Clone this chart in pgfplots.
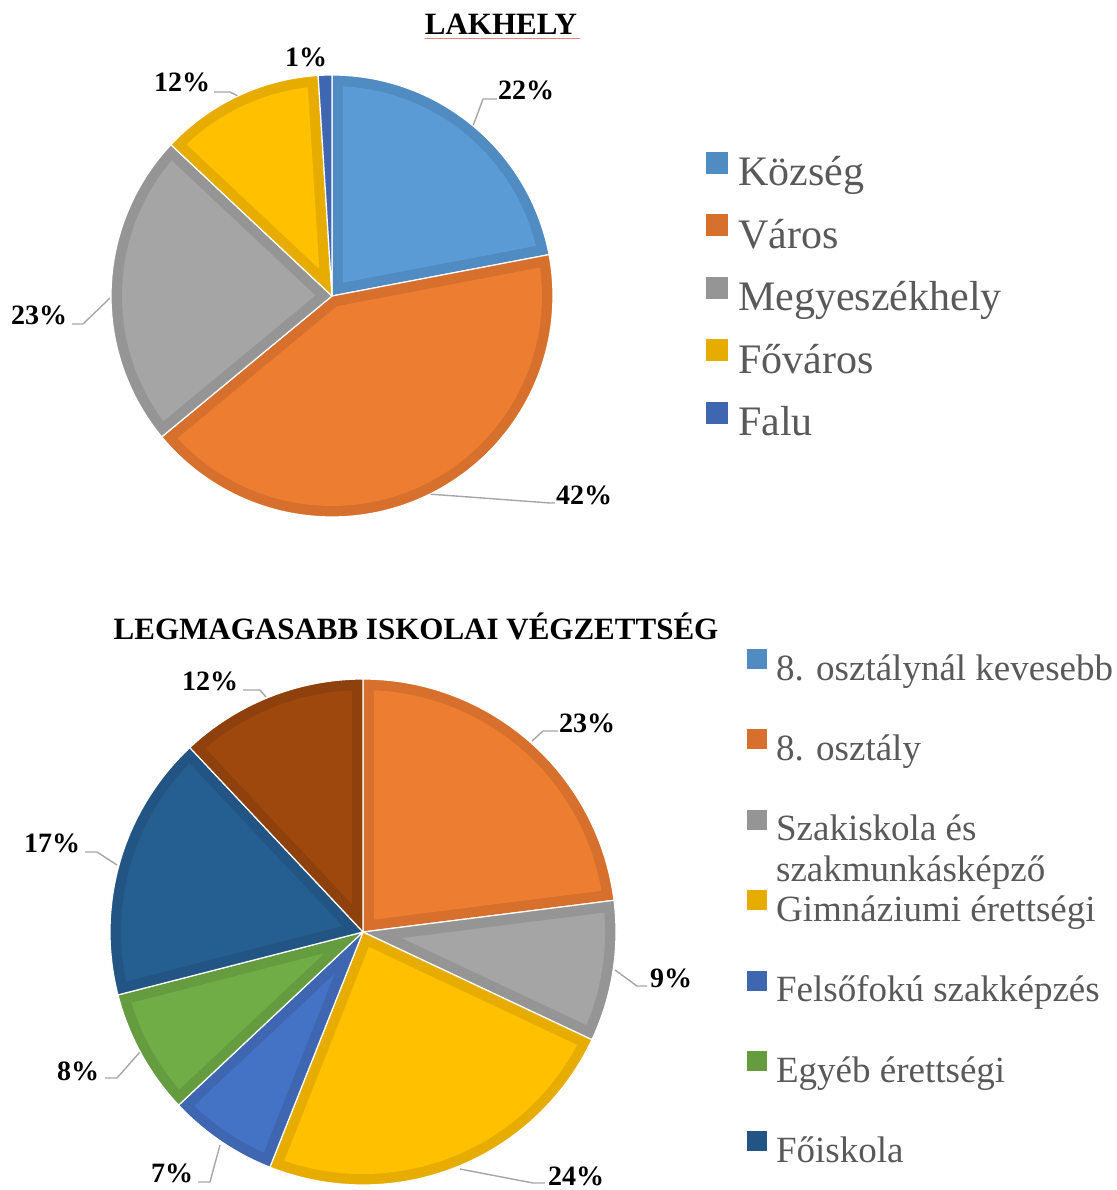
\documentclass[border=0pt]{standalone}
\usepackage{pgfplots}
\pgfplotsset{compat=1.18}
\usepackage{fontspec}
\setmainfont{Liberation Serif}

\definecolor{cBlue}{HTML}{5B9BD5}\definecolor{cBlueD}{HTML}{508BC2}
\definecolor{cOrange}{HTML}{ED7D31}\definecolor{cOrangeD}{HTML}{D6702C}
\definecolor{cGray}{HTML}{A5A5A5}\definecolor{cGrayD}{HTML}{959595}
\definecolor{cGold}{HTML}{FFC000}\definecolor{cGoldD}{HTML}{E6AD00}
\definecolor{cBlueII}{HTML}{4472C4}\definecolor{cBlueIID}{HTML}{3E66B1}
\definecolor{cGreen}{HTML}{70AD47}\definecolor{cGreenD}{HTML}{659C40}
\definecolor{cNavy}{HTML}{255E91}\definecolor{cNavyD}{HTML}{225583}
\definecolor{cBrown}{HTML}{9E480E}\definecolor{cBrownD}{HTML}{8E410D}
\definecolor{legtext}{HTML}{595959}
\definecolor{leader}{HTML}{A6A6A6}
\definecolor{squig}{HTML}{F08080}

\def\inset{11}
% #1 cx, #2 cy, #3 R, #4 start %, #5 end %, #6 fill, #7 border colour, #8 extra options
\newcommand{\pieslice}[8]{%
  \pgfmathsetmacro\sa{3.6*#4}%
  \pgfmathsetmacro\sb{3.6*#5}%
  \pgfmathsetmacro\sm{(\sa+\sb)/2}%
  \pgfmathsetmacro\sh{(\sb-\sa)/2}%
  \pgfmathsetmacro\sr{#3-\inset}%
  \pgfmathsetmacro\sd{asin(\inset/\sr)}%
  \pgfmathsetmacro\sq{\inset/sin(\sh)}%
  \pgfmathsetmacro\ax{#1+\sq*sin(\sm)}%
  \pgfmathsetmacro\ay{#2-\sq*cos(\sm)}%
  \pgfmathsetmacro\ia{\sa+\sd}%
  \pgfmathsetmacro\ib{\sb-\sd}%
  \pgfmathtruncatemacro\hasinner{\sq<0.8*\sr ? 1 : 0}%
  \edef\doslice{%
    \noexpand\addplot[#8, fill=#7, draw=white, line width=1.2pt, line join=round,
      domain=\sa:\sb, samples=90, variable=\noexpand\t]
      ({#1+#3*sin(\noexpand\t)}, {#2-#3*cos(\noexpand\t)}) -- (axis cs:#1,#2) -- cycle;
  }\doslice
  \ifnum\hasinner=1
  \edef\doslice{%
    \noexpand\addplot[forget plot, fill=#6, draw=none,
      domain=\ia:\ib, samples=90, variable=\noexpand\t]
      ({#1+\sr*sin(\noexpand\t)}, {#2-\sr*cos(\noexpand\t)}) -- (axis cs:\ax,\ay) -- cycle;
  }\doslice
  \fi
}

\pgfplotsset{
  pieaxis/.style={
    at={(0,0)}, anchor=south west,
    scale only axis, width=1116pt, height=1190pt,
    xmin=0, xmax=1116, ymin=0, ymax=1190, y dir=reverse,
    hide axis, clip=false, legend cell align=left,
  },
  lead/.style={forget plot, leader, line width=1.4pt, no marks},
}
\newcommand{\lab}[3]{\node[anchor=base, inner sep=0pt, font=\fontsize{28}{30}\selectfont\bfseries] at (axis cs:#1,#2) {#3};}

\begin{document}
\begin{tikzpicture}
\useasboundingbox (0,0) rectangle (1116pt,1190pt);
% ---------------- LAKHELY ----------------
\begin{axis}[pieaxis,
  legend image code/.code={\fill[#1,draw=none] (0pt,2pt) rectangle (22pt,24pt); \path (31.5pt,0pt);},
  legend style={at={(axis cs:706,152)}, anchor=north west, draw=none, fill=none,
     inner sep=0pt, outer sep=0pt,
     font=\fontsize{42}{50}\selectfont, text=legtext, column sep=0pt, row sep=18.5pt,
     nodes={inner sep=0pt, text height=30pt, text depth=10pt}},
]
\addplot[lead] coordinates {(473,126) (483,99) (497,99)};
\addplot[lead] coordinates {(238,96) (230,92) (214,92)};
\addplot[lead] coordinates {(110,298) (83,324) (72,324)};
\addplot[lead] coordinates {(428,494) (550,503) (555,503)};
\addplot[forget plot, color=squig, draw=squig, line width=1pt, no marks] coordinates {(425,39) (580,39)};

\pieslice{332}{296}{221}{0}{22}{cBlue}{cBlueD}{}
\pieslice{332}{296}{221}{22}{64}{cOrange}{cOrangeD}{}
\pieslice{332}{296}{221}{64}{87}{cGray}{cGrayD}{}
\pieslice{332}{296}{221}{87}{99}{cGold}{cGoldD}{}
\pieslice{332}{296}{221}{99}{100}{cBlueII}{cBlueIID}{}
\legend{Község,Város,Megyeszékhely,Főváros,Falu}

\node[anchor=base, inner sep=0pt, font=\fontsize{31}{34}\selectfont\bfseries] at (axis cs:501,35) {LAKHELY};
\lab{306}{67}{1\%}
\lab{526}{100}{22\%}
\lab{182}{92}{12\%}
\lab{39}{325}{23\%}
\lab{584}{505}{42\%}
\end{axis}

% ---------------- LEGMAGASABB ISKOLAI VÉGZETTSÉG ----------------
\begin{axis}[pieaxis,
  legend image code/.code={\fill[#1,draw=none] (0pt,2pt) rectangle (20pt,22pt); \path (28.5pt,0pt);},
  legend style={at={(axis cs:747,649)}, anchor=north west, draw=none, fill=none,
     inner sep=0pt, outer sep=0pt,
     font=\fontsize{37}{41}\selectfont, text=legtext, column sep=0pt, row sep=40.4pt,
     nodes={inner sep=0pt, text height=27pt, text depth=9pt}},
]
\addplot[lead] coordinates {(532,741) (543,731) (558,731)};
\addplot[lead] coordinates {(615,970) (637,986) (647,986)};
\addplot[lead] coordinates {(460,1169) (533,1183) (545,1183)};
\addplot[lead] coordinates {(220,1145) (210,1182) (198,1182)};
\addplot[lead] coordinates {(140,1052) (117,1078) (105,1078)};
\addplot[lead] coordinates {(117,865) (97,852) (85,852)};
\addplot[lead] coordinates {(266,697) (260,690) (243,690)};

\addlegendimage{fill=cBlueD}
\pieslice{363}{932}{253}{0}{23}{cOrange}{cOrangeD}{}
\pieslice{363}{932}{253}{23}{32}{cGray}{cGrayD}{}
\pieslice{363}{932}{253}{32}{56}{cGold}{cGoldD}{}
\pieslice{363}{932}{253}{56}{63}{cBlueII}{cBlueIID}{}
\pieslice{363}{932}{253}{63}{71}{cGreen}{cGreenD}{}
\pieslice{363}{932}{253}{71}{88}{cNavy}{cNavyD}{}
\pieslice{363}{932}{253}{88}{100}{cBrown}{cBrownD}{forget plot}
\legend{8. osztálynál kevesebb,8. osztály,{\begin{tabular}[t]{@{}l@{}}Szakiskola és\\szakmunkásképző\end{tabular}},Gimnáziumi érettségi,Felsőfokú szakképzés,Egyéb érettségi,Főiskola}

\node[anchor=base, inner sep=0pt, font=\fontsize{31}{34}\selectfont\bfseries] at (axis cs:416,639) {LEGMAGASABB ISKOLAI VÉGZETTSÉG};
\lab{210}{690}{12\%}
\lab{587}{732}{23\%}
\lab{52}{852}{17\%}
\lab{671}{987}{9\%}
\lab{576}{1185}{24\%}
\lab{172}{1182}{7\%}
\lab{78}{1080}{8\%}
\end{axis}
\end{tikzpicture}
\end{document}
